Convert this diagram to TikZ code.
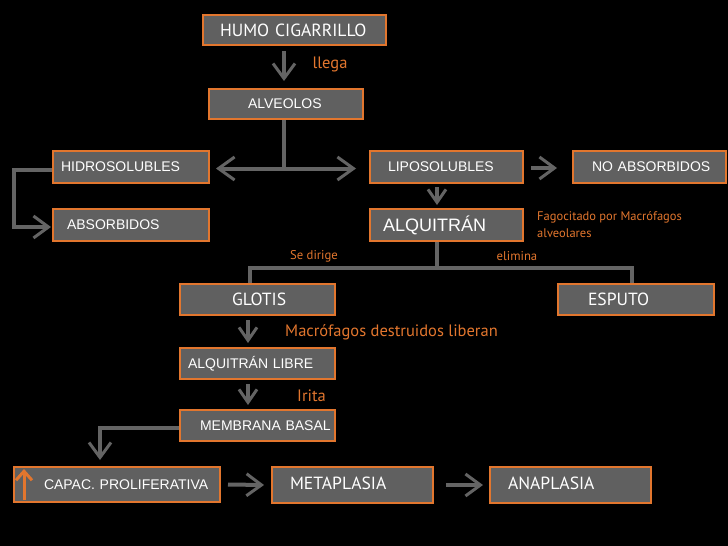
\documentclass[tikz,border=0pt]{standalone}
\usepackage{fontspec}
\setmainfont{Liberation Sans}
\newfontfamily\humfont{PT Sans}
\usetikzlibrary{arrows.meta}
\definecolor{fondo}{RGB}{0,0,0}
\definecolor{gris}{RGB}{96,96,96}
\definecolor{grisflecha}{RGB}{100,100,100}
\definecolor{naranja}{RGB}{226,118,46}

\begin{document}
\begin{tikzpicture}[
      x=1pt, y=-1pt,
      block/.style ={rectangle, draw=naranja, line width=2pt, fill=gris, text=white,
                     inner xsep=0pt, inner ysep=0pt, align=left, minimum height=31pt,
                     font=\fontsize{14}{16}\selectfont},
      blockh/.style={block, font=\humfont\fontsize{17.6}{19}\selectfont},
      note/.style  ={text=naranja, inner sep=0pt, font=\humfont\fontsize{16.5}{18}\selectfont},
      notesmall/.style={note, font=\humfont\fontsize{12.7}{14}\selectfont},
      linea/.style ={draw=grisflecha, line width=4pt},
      flecha/.style={linea, -{Straight Barb[length=15pt,width=22pt,line width=3pt]}},
      flechac/.style={linea, -{Straight Barb[length=13pt,width=18pt,line width=3pt]}},
      flechas/.style={linea, {Straight Barb[length=16pt,width=23pt,line width=3pt]}-{Straight Barb[length=16pt,width=23pt,line width=3pt]}},
      subida/.style={draw=naranja, line width=3pt, -{Straight Barb[length=9pt,width=16pt,line width=3pt]}}
    ]
    \fill [fondo] (0,0) rectangle (728,546) ;
    \useasboundingbox (0,0) rectangle (728,546) ;

    \node [blockh, text width=183pt, minimum height=30pt] (humo) at (294.5,30) {\hspace*{17pt}HUMO CIGARRILLO} ;
    \node [block, text width=154pt, minimum height=30pt] (alv) at (286,104) {\hspace*{39pt}ALVEOLOS} ;
    \node [block, text width=156pt, minimum height=32pt] (hidro) at (131,167) {\hspace*{8pt}HIDROSOLUBLES} ;
    \node [block, text width=153pt, minimum height=32pt] (lipo) at (446.5,167) {\hspace*{18pt}LIPOSOLUBLES} ;
    \node [block, text width=153pt, minimum height=32pt] (noabs) at (649.5,167) {\hspace*{19pt}NO ABSORBIDOS} ;
    \node [block, text width=156pt, minimum height=32pt] (absor) at (131,225) {\hspace*{14pt}ABSORBIDOS} ;
    \node [block, text width=153pt, minimum height=32pt, font=\fontsize{18}{20}\selectfont] (alq) at (446.5,225) {\hspace*{13pt}ALQUITRÁN} ;
    \node [blockh, text width=155pt] (glotis) at (257.5,299.5) {\hspace*{52pt}GLOTIS} ;
    \node [blockh, text width=156pt] (esputo) at (636,299.5) {\hspace*{30pt}ESPUTO} ;
    \node [block, text width=155pt] (libre) at (257.5,363.5) {\hspace*{8pt}ALQUITRÁN LIBRE} ;
    \node [block, text width=155pt] (membrana) at (257.5,425.5) {\hspace*{20pt}MEMBRANA BASAL} ;
    \node [block, text width=206pt, minimum height=35pt] (capac) at (117,484.5) {\hspace*{30pt}CAPAC. PROLIFERATIVA} ;
    \node [blockh, text width=161pt, minimum height=36pt] (meta) at (352.5,485) {\hspace*{18pt}METAPLASIA\vphantom{g}} ;
    \node [blockh, text width=161pt, minimum height=36pt] (ana) at (570.5,485) {\hspace*{18pt}ANAPLASIA\vphantom{g}} ;

    % textos naranjas
    \node [note] (llega) at (330,64) {llega} ;
    \node [notesmall] (dirige) at (314,256) {Se dirige} ;
    \node [notesmall] (elimina) at (517,256) {elimina} ;
    \node [note, anchor=west, align=left, font=\humfont\fontsize{12.5}{17}\selectfont] (fagoc) at (537,225) {Fagocitado por Macrófagos\\alveolares} ;
    \node [note, anchor=west] (liberan) at (285,332) {Macrófagos destruidos liberan} ;
    \node [note, anchor=west] (irita) at (297,396) {Irita} ;

    \draw [flecha] ([xshift=-10.5pt,yshift=-5pt]humo.south) -- ([xshift=-2pt,yshift=7pt]alv.north) ;
    \draw [linea] ([xshift=-2pt]alv.south) -- ++(0,49) ;
    \draw [flechas] ([xshift=6pt,yshift=-1.5pt]hidro.east) -- ([xshift=-13pt,yshift=-1.5pt]lipo.west) ;
    \draw [flecha] ([yshift=-2.5pt]hidro.west) -- ++(-38,0) |- ([xshift=-1pt,yshift=-2pt]absor.west) ;
    \draw [flecha] ([xshift=7pt,yshift=-1pt]lipo.east) -- ([xshift=-15pt,yshift=-1pt]noabs.west) ;
    \draw [flechac] ([xshift=-9.5pt,yshift=-3pt]lipo.south) -- ([xshift=-9.5pt,yshift=3pt]alq.north) ;
    \draw [linea] ([xshift=-9.5pt]alq.south) -- ++(0,26) coordinate (rama) ;
    \draw [linea] ([xshift=-7.5pt]glotis.north) |- (rama) -| ([xshift=-4pt]esputo.north) ;
    \draw [flechac] ([xshift=-9.5pt,yshift=-4pt]glotis.south) -- ([xshift=-9.5pt,yshift=4pt]libre.north) ;
    \draw [flechac] ([xshift=-9.5pt,yshift=-4pt]libre.south) -- ([xshift=-9.5pt,yshift=4pt]membrana.north) ;
    \draw [flecha] ([yshift=-2.5pt]membrana.west) -| ([xshift=-17pt,yshift=6pt]capac.north) ;
    \draw [flecha] ([xshift=7pt]capac.east) -- ([xshift=-7pt]meta.west) ;
    \draw [flecha] ([xshift=12pt]meta.east) -- ([xshift=-6pt]ana.west) ;
    \draw [subida] ([xshift=11pt,yshift=3pt]capac.south west) -- ([xshift=11pt,yshift=-3pt]capac.north west) ;
  \end{tikzpicture}
\end{document}
